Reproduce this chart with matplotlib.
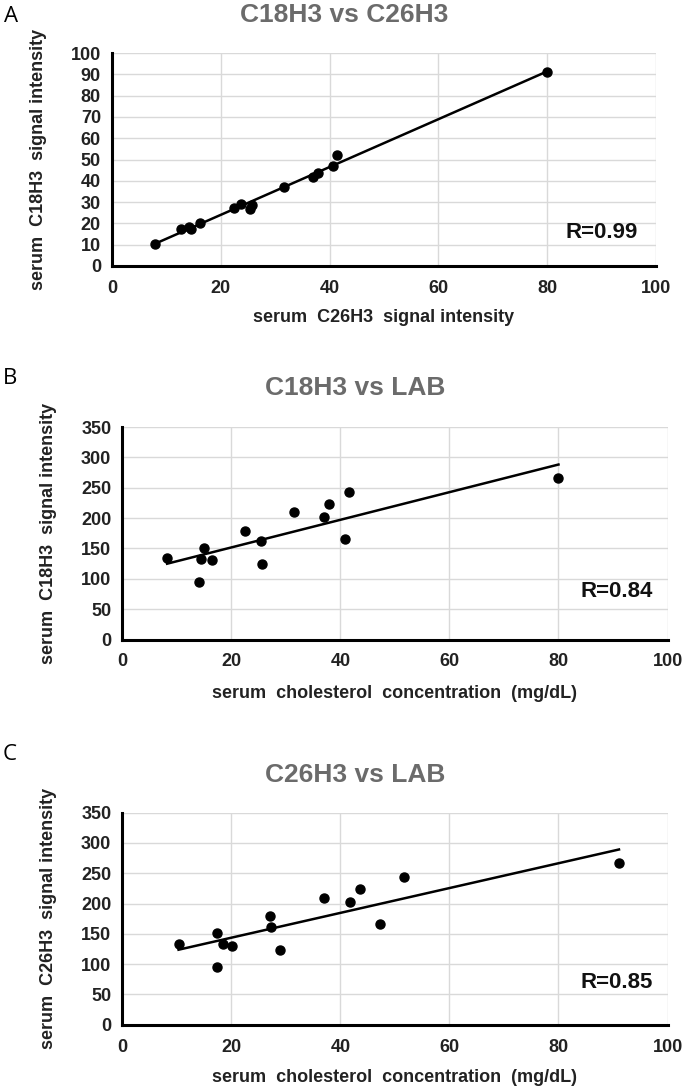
import matplotlib
matplotlib.use("Agg")
import matplotlib.pyplot as plt
import numpy as np

# ---- data ----
a_x = [7.9, 12.7, 14.1, 14.6, 16.2, 22.5, 23.8, 25.3, 25.7, 31.6, 37.0, 37.8, 40.6, 41.4, 80.0]
a_y = [10.3, 17.4, 18.3, 17.4, 20.0, 27.4, 29.1, 26.9, 28.6, 36.9, 41.6, 43.5, 46.9, 52.1, 91.2]

b_x = [8.2, 14.9, 14.4, 16.4, 14.0, 22.5, 25.4, 25.7, 31.5, 36.9, 37.9, 40.8, 41.5, 80.0]
b_y = [134.4, 150.8, 132.7, 131.1, 95.4, 178.8, 161.8, 124.0, 209.5, 202.4, 223.8, 166.2, 242.5, 266.0]

c_x = [10.3, 17.4, 18.4, 20.1, 17.4, 27.0, 27.2, 28.9, 37.0, 41.7, 43.5, 47.2, 51.6, 91.1]
c_y = [133.2, 150.8, 133.2, 130.4, 95.2, 178.9, 161.3, 123.3, 209.7, 202.5, 223.4, 166.8, 243.3, 266.4]

titles = ["C18H3 vs C26H3", "C18H3 vs LAB", "C26H3 vs LAB"]
panel_letters = ["A", "B", "C"]
xlabels = ["serum  C26H3  signal intensity",
           "serum  cholesterol  concentration  (mg/dL)",
           "serum  cholesterol  concentration  (mg/dL)"]
ylabels = ["serum  C18H3  signal intensity",
           "serum  C18H3  signal intensity",
           "serum  C26H3  signal intensity"]
r_texts = ["R=0.99", "R=0.84", "R=0.85"]
x_ticks = [0, 20, 40, 60, 80, 100]
y_ticks_a = [0, 10, 20, 30, 40, 50, 60, 70, 80, 90, 100]
y_ticks_bc = [0, 50, 100, 150, 200, 250, 300, 350]

W, H = 685, 1089
fig = plt.figure(figsize=(W / 100, H / 100), dpi=100)
fig.patch.set_facecolor("white")

NARROW = ["Liberation Sans Narrow", "Liberation Sans", "DejaVu Sans"]

def fx(px):
    return px / W

def fy(py):
    return 1 - py / H

# axes rectangles in pixel coords: (left, right, top, bottom)
rects = [(112, 656, 53, 266), (122.4, 667.5, 427, 639.5), (122.4, 667.5, 812.7, 1024.7)]
datasets = [(a_x, a_y), (b_x, b_y), (c_x, c_y)]
yticks_list = [y_ticks_a, y_ticks_bc, y_ticks_bc]
ylims = [(0, 100), (0, 350), (0, 350)]
title_y = [15, 388, 775]
letter_pos = [(11, 16), (10, 378), (10, 755)]
xlabel_y = [317, 694, 1077]
ylabel_x = [39, 49, 49]
r_pos = [(0.90, 0.155), (0.907, 0.224), (0.907, 0.20)]

for i in range(3):
    l, r, t, b = rects[i]
    ax = fig.add_axes([fx(l), fy(b), fx(r - l), (b - t) / H])
    x, y = datasets[i]
    ax.set_xlim(0, 100)
    ax.set_ylim(*ylims[i])
    ax.set_xticks(x_ticks)
    ax.set_yticks(yticks_list[i])
    ax.grid(True, color="#d9d9d9", linewidth=1.0)
    ax.set_axisbelow(True)
    for s in ["top", "right"]:
        ax.spines[s].set_visible(False)
    for s in ["left", "bottom"]:
        ax.spines[s].set_linewidth(2.2)
        ax.spines[s].set_color("black")
    ax.tick_params(length=0, pad=8, labelsize=13, colors="#222222")
    for lab in ax.get_xticklabels() + ax.get_yticklabels():
        lab.set_family(NARROW)
        lab.set_fontweight("bold")
    ax.tick_params(axis="x", pad=10)
    # points
    ax.plot(x, y, "o", color="black", markersize=6.5, zorder=3, clip_on=False)
    # trend line
    xa = np.array(x)
    k, c0 = np.polyfit(xa, np.array(y), 1)
    xs = np.array([xa.min(), xa.max()])
    ax.plot(xs, k * xs + c0, color="black", linewidth=1.8, zorder=2)
    ax.text(r_pos[i][0], r_pos[i][1], r_texts[i], transform=ax.transAxes,
            ha="center", va="center", fontsize=16, fontweight="bold",
            family=NARROW, color="#111111")
    # title
    fig.text(fx((l + r) / 2 - 40), fy(title_y[i]), titles[i], ha="center", va="center",
             fontsize=19, fontweight="bold", family=NARROW, color="#6b6b6b")
    fig.text(fx(letter_pos[i][0]), fy(letter_pos[i][1]), panel_letters[i],
             ha="center", va="center", fontsize=16, family=["Open Sans", "DejaVu Sans"],
             color="black")
    fig.text(fx((l + r) / 2), fy(xlabel_y[i]), xlabels[i], ha="center", va="center",
             fontsize=13, fontweight="bold", family=NARROW, color="#222222")
    fig.text(fx(ylabel_x[i]), fy((t + b) / 2), ylabels[i], ha="center", va="center",
             rotation=90, fontsize=13, fontweight="bold", family=NARROW, color="#222222")

fig.savefig("out.png", dpi=100, facecolor="white")
